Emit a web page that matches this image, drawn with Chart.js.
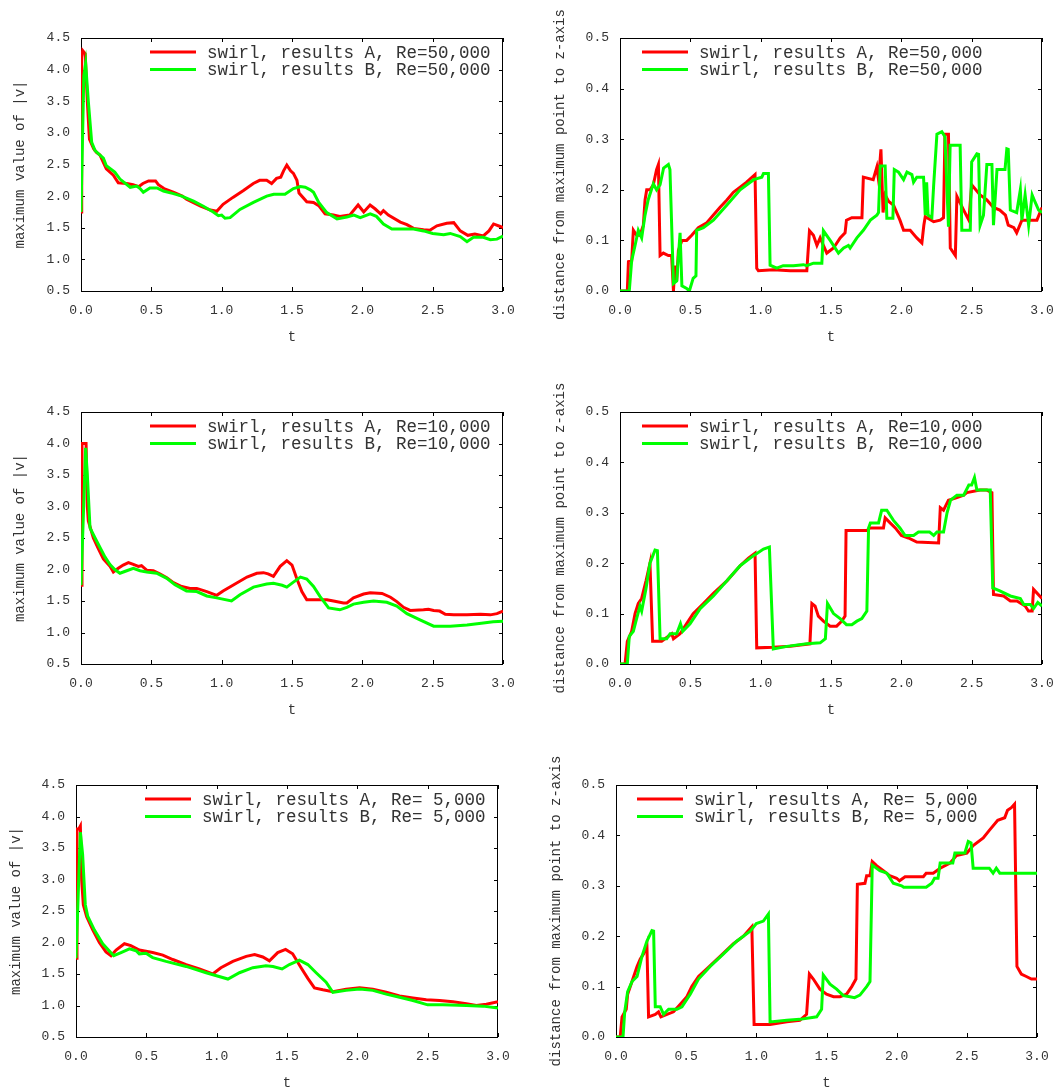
<!DOCTYPE html>
<html lang="en">
<head>
  <meta charset="UTF-8">
  <title>swirl, results A / B</title>
  <style>
    body { margin: 0; background: #fff; }
    .panel { position: absolute; }
  </style>
</head>
<body>
<div class="panel" style="left:0;top:0"><canvas id="c1" width="527" height="364"></canvas></div>
<div class="panel" style="left:527px;top:0"><canvas id="c2" width="528" height="364"></canvas></div>
<div class="panel" style="left:0;top:364px"><canvas id="c3" width="527" height="364"></canvas></div>
<div class="panel" style="left:527px;top:364px"><canvas id="c4" width="528" height="364"></canvas></div>
<div class="panel" style="left:0;top:728px"><canvas id="c5" width="527" height="364"></canvas></div>
<div class="panel" style="left:527px;top:728px"><canvas id="c6" width="528" height="364"></canvas></div>

<script src="https://cdn.jsdelivr.net/npm/chart.js"></script>
<script>
  // ---- data ----
  const tTicks = [0, 0.5, 1.0, 1.5, 2.0, 2.5, 3.0];

  // maximum value of |v|, Re=50,000
  const maxRe50A_t = [0, 0.005, 0.012, 0.03, 0.045, 0.06, 0.09, 0.11, 0.135, 0.18,
    0.23, 0.265, 0.325, 0.37, 0.41, 0.44, 0.48, 0.53, 0.55, 0.59,
    0.66, 0.72, 0.75, 0.85, 0.92, 0.965, 1.01, 1.08, 1.155, 1.225,
    1.27, 1.32, 1.355, 1.39, 1.42, 1.44, 1.463, 1.49, 1.51, 1.535,
    1.55, 1.605, 1.653, 1.69, 1.735, 1.795, 1.84, 1.91, 1.97, 2.01,
    2.055, 2.09, 2.13, 2.15, 2.185, 2.27, 2.317, 2.364, 2.435, 2.48,
    2.53, 2.6, 2.65, 2.696, 2.75, 2.8, 2.86, 2.9, 2.933, 2.98,
    3.0];
  const maxRe50A_v = [1.75, 4.2, 4.3, 4.25, 3.5, 2.9, 2.75, 2.69, 2.65, 2.43,
    2.33, 2.21, 2.2, 2.18, 2.15, 2.2, 2.24, 2.24, 2.18, 2.12,
    2.06, 2.0, 1.95, 1.84, 1.78, 1.76, 1.87, 1.98, 2.09, 2.2,
    2.25, 2.25, 2.2, 2.28, 2.3, 2.4, 2.49, 2.4, 2.36, 2.25,
    2.05, 1.91, 1.9, 1.85, 1.72, 1.7, 1.68, 1.7, 1.86, 1.75,
    1.86, 1.8, 1.72, 1.77, 1.7, 1.59, 1.55, 1.49, 1.47, 1.46,
    1.53, 1.57, 1.58, 1.45, 1.38, 1.4, 1.37, 1.45, 1.56, 1.52,
    1.5];
  const maxRe50B_t = [0, 0.02, 0.033, 0.052, 0.076, 0.1, 0.135, 0.159, 0.18, 0.24,
    0.277, 0.35, 0.396, 0.42, 0.443, 0.49, 0.54, 0.586, 0.657, 0.716,
    0.8, 0.87, 0.94, 0.977, 1.0, 1.024, 1.06, 1.13, 1.226, 1.32,
    1.37, 1.45, 1.51, 1.56, 1.594, 1.63, 1.653, 1.69, 1.747, 1.82,
    1.89, 1.94, 1.985, 2.056, 2.1, 2.15, 2.21, 2.27, 2.364, 2.435,
    2.5, 2.578, 2.625, 2.696, 2.744, 2.79, 2.86, 2.91, 2.957, 3.0];
  const maxRe50B_v = [1.75, 3.9, 4.1, 3.5, 2.85, 2.72, 2.65, 2.6, 2.48, 2.38,
    2.27, 2.14, 2.16, 2.12, 2.06, 2.13, 2.13, 2.08, 2.04, 2.0,
    1.92, 1.84, 1.75, 1.69, 1.7, 1.65, 1.66, 1.79, 1.9, 2.0,
    2.03, 2.03, 2.12, 2.15, 2.14, 2.1, 2.06, 1.9, 1.74, 1.64,
    1.67, 1.7, 1.66, 1.72, 1.68, 1.56, 1.48, 1.48, 1.48, 1.45,
    1.41, 1.39, 1.41, 1.36, 1.28, 1.35, 1.35, 1.31, 1.32, 1.37];

  // distance from maximum point to z-axis, Re=50,000
  const distRe50A_t = [0, 0.052, 0.06, 0.083, 0.095, 0.118, 0.142, 0.166, 0.178, 0.19,
    0.213, 0.237, 0.26, 0.273, 0.285, 0.308, 0.344, 0.367, 0.38, 0.39,
    0.403, 0.415, 0.44, 0.474, 0.51, 0.557, 0.617, 0.664, 0.71, 0.76,
    0.806, 0.854, 0.9, 0.96, 0.972, 0.984, 1.09, 1.21, 1.328, 1.347,
    1.375, 1.4, 1.423, 1.446, 1.47, 1.518, 1.565, 1.6, 1.61, 1.648,
    1.72, 1.73, 1.8, 1.826, 1.838, 1.855, 1.87, 1.885, 1.91, 1.944,
    1.99, 2.016, 2.063, 2.11, 2.146, 2.16, 2.17, 2.23, 2.276, 2.3,
    2.31, 2.335, 2.348, 2.384, 2.395, 2.443, 2.48, 2.5, 2.56, 2.608,
    2.655, 2.7, 2.74, 2.76, 2.8, 2.82, 2.857, 2.917, 2.964, 3.0];
  const distRe50A_v = [0, 0, 0.058, 0.06, 0.12, 0.11, 0.11, 0.13, 0.18, 0.2,
    0.2, 0.21, 0.24, 0.25, 0.07, 0.075, 0.07, 0.07, 0, 0.05,
    0.02, 0.08, 0.1, 0.1, 0.11, 0.125, 0.135, 0.15, 0.165, 0.18,
    0.195, 0.205, 0.215, 0.23, 0.045, 0.04, 0.042, 0.04, 0.04, 0.119,
    0.11, 0.09, 0.105, 0.09, 0.075, 0.085, 0.105, 0.115, 0.14, 0.145,
    0.145, 0.225, 0.22, 0.245, 0.22, 0.28, 0.155, 0.19, 0.177, 0.17,
    0.14, 0.12, 0.12, 0.105, 0.095, 0.13, 0.147, 0.137, 0.14, 0.145,
    0.31, 0.31, 0.085, 0.07, 0.187, 0.16, 0.14, 0.21, 0.19, 0.18,
    0.165, 0.16, 0.15, 0.13, 0.125, 0.115, 0.14, 0.14, 0.14, 0.165];
  const distRe50B_t = [0, 0.066, 0.083, 0.107, 0.13, 0.154, 0.178, 0.2, 0.237, 0.26,
    0.285, 0.31, 0.344, 0.355, 0.38, 0.403, 0.427, 0.44, 0.474, 0.493,
    0.52, 0.54, 0.545, 0.593, 0.664, 0.76, 0.854, 0.95, 1.008, 1.02,
    1.055, 1.067, 1.114, 1.16, 1.233, 1.304, 1.328, 1.375, 1.435, 1.446,
    1.494, 1.553, 1.59, 1.624, 1.636, 1.684, 1.73, 1.78, 1.826, 1.838,
    1.85, 1.885, 1.897, 1.94, 1.95, 1.98, 2.016, 2.04, 2.075, 2.087,
    2.11, 2.158, 2.17, 2.18, 2.19, 2.217, 2.23, 2.253, 2.288, 2.31,
    2.335, 2.347, 2.418, 2.43, 2.49, 2.5, 2.537, 2.549, 2.56, 2.584,
    2.608, 2.644, 2.655, 2.68, 2.737, 2.75, 2.76, 2.775, 2.82, 2.846,
    2.857, 2.88, 2.905, 2.93, 2.952, 2.976, 3.0];
  const distRe50B_v = [0, 0, 0.06, 0.09, 0.12, 0.105, 0.15, 0.18, 0.212, 0.2,
    0.21, 0.243, 0.25, 0.24, 0.015, 0.02, 0.115, 0.01, 0.005, 0,
    0.025, 0.03, 0.12, 0.125, 0.14, 0.17, 0.2, 0.22, 0.225, 0.232,
    0.232, 0.051, 0.045, 0.05, 0.05, 0.052, 0.05, 0.055, 0.055, 0.119,
    0.1, 0.075, 0.085, 0.09, 0.085, 0.105, 0.12, 0.14, 0.15, 0.155,
    0.247, 0.247, 0.144, 0.144, 0.24, 0.235, 0.22, 0.235, 0.23, 0.215,
    0.225, 0.225, 0.15, 0.215, 0.15, 0.145, 0.21, 0.31, 0.315, 0.305,
    0.127, 0.288, 0.288, 0.12, 0.12, 0.255, 0.271, 0.27, 0.13, 0.15,
    0.25, 0.25, 0.13, 0.24, 0.24, 0.281, 0.28, 0.16, 0.155, 0.2,
    0.14, 0.19, 0.13, 0.19, 0.175, 0.16, 0.155];

  // maximum value of |v|, Re=10,000
  const maxRe10A_t = [0, 0.007, 0.036, 0.045, 0.052, 0.088, 0.123, 0.159, 0.206, 0.23,
    0.265, 0.3, 0.337, 0.372, 0.408, 0.43, 0.467, 0.514, 0.56, 0.61,
    0.657, 0.716, 0.775, 0.823, 0.894, 0.965, 1.01, 1.08, 1.18, 1.25,
    1.297, 1.33, 1.368, 1.416, 1.463, 1.5, 1.535, 1.57, 1.605, 1.677,
    1.748, 1.795, 1.866, 1.89, 1.937, 2.009, 2.056, 2.14, 2.2, 2.245,
    2.293, 2.34, 2.435, 2.47, 2.507, 2.55, 2.59, 2.65, 2.744, 2.84,
    2.91, 2.957, 3.0];
  const maxRe10A_v = [1.75, 4.0, 4.0, 3.0, 2.77, 2.5, 2.33, 2.17, 2.05, 1.96,
    2.02, 2.07, 2.11, 2.08, 2.05, 2.06, 1.99, 1.98, 1.93, 1.87,
    1.79, 1.73, 1.7, 1.7, 1.65, 1.59, 1.66, 1.75, 1.88, 1.94,
    1.95, 1.93, 1.89, 2.05, 2.14, 2.07, 1.85, 1.65, 1.52, 1.52,
    1.52, 1.5, 1.47, 1.47, 1.55, 1.61, 1.63, 1.62, 1.56, 1.49,
    1.4, 1.35, 1.36, 1.37, 1.35, 1.34, 1.29, 1.28, 1.28, 1.29,
    1.28, 1.3, 1.34];
  const maxRe10B_t = [0, 0.033, 0.045, 0.064, 0.1, 0.135, 0.17, 0.206, 0.24, 0.277,
    0.325, 0.372, 0.42, 0.467, 0.538, 0.61, 0.668, 0.75, 0.823, 0.894,
    0.965, 1.07, 1.13, 1.226, 1.32, 1.368, 1.43, 1.463, 1.51, 1.56,
    1.605, 1.653, 1.7, 1.76, 1.84, 1.89, 1.937, 2.009, 2.08, 2.174,
    2.245, 2.317, 2.41, 2.507, 2.625, 2.744, 2.86, 2.93, 3.0];
  const maxRe10B_v = [1.75, 3.93, 3.5, 2.66, 2.5, 2.35, 2.2, 2.08, 2.0, 1.94,
    1.98, 2.02, 1.98, 1.96, 1.94, 1.86, 1.76, 1.66, 1.65, 1.58,
    1.55, 1.5, 1.6, 1.72, 1.77, 1.78, 1.75, 1.72, 1.8, 1.88,
    1.85, 1.73, 1.57, 1.39, 1.36, 1.4, 1.45, 1.48, 1.5, 1.48,
    1.42, 1.3, 1.2, 1.1, 1.1, 1.12, 1.15, 1.17, 1.18];

  // distance from maximum point to z-axis, Re=10,000
  const distRe10A_t = [0, 0.036, 0.052, 0.083, 0.107, 0.13, 0.154, 0.185, 0.213, 0.232,
    0.296, 0.32, 0.368, 0.38, 0.427, 0.474, 0.52, 0.593, 0.664, 0.76,
    0.854, 0.913, 0.96, 0.972, 1.09, 1.21, 1.35, 1.364, 1.387, 1.41,
    1.446, 1.494, 1.54, 1.577, 1.6, 1.607, 1.684, 1.755, 1.779, 1.873,
    1.885, 1.92, 1.957, 2.0, 2.05, 2.11, 2.265, 2.277, 2.3, 2.335,
    2.395, 2.443, 2.466, 2.56, 2.608, 2.644, 2.655, 2.727, 2.775, 2.822,
    2.88, 2.904, 2.93, 2.94, 3.0];
  const distRe10A_v = [0, 0, 0.045, 0.065, 0.1, 0.12, 0.13, 0.165, 0.2, 0.045,
    0.045, 0.05, 0.06, 0.05, 0.06, 0.08, 0.1, 0.12, 0.14, 0.165,
    0.195, 0.21, 0.22, 0.032, 0.033, 0.035, 0.04, 0.12, 0.115, 0.095,
    0.085, 0.075, 0.075, 0.085, 0.095, 0.265, 0.265, 0.265, 0.27, 0.27,
    0.29, 0.28, 0.27, 0.255, 0.25, 0.242, 0.24, 0.31, 0.305, 0.325,
    0.33, 0.335, 0.34, 0.345, 0.345, 0.34, 0.138, 0.135, 0.125, 0.125,
    0.115, 0.105, 0.105, 0.148, 0.13];
  const distRe10B_t = [0, 0.052, 0.066, 0.095, 0.118, 0.142, 0.154, 0.185, 0.213, 0.249,
    0.266, 0.285, 0.332, 0.356, 0.403, 0.43, 0.446, 0.498, 0.57, 0.664,
    0.76, 0.854, 0.949, 1.02, 1.062, 1.09, 1.186, 1.328, 1.423, 1.46,
    1.475, 1.518, 1.565, 1.61, 1.648, 1.684, 1.719, 1.755, 1.767, 1.78,
    1.838, 1.86, 1.897, 1.944, 1.99, 2.027, 2.087, 2.122, 2.2, 2.23,
    2.253, 2.3, 2.325, 2.35, 2.395, 2.443, 2.48, 2.5, 2.52, 2.537,
    2.632, 2.65, 2.7, 2.775, 2.846, 2.87, 2.917, 2.94, 2.97, 3.0];
  const distRe10B_v = [0, 0, 0.055, 0.065, 0.09, 0.115, 0.105, 0.15, 0.2, 0.226,
    0.225, 0.05, 0.05, 0.06, 0.06, 0.08, 0.065, 0.08, 0.11, 0.135,
    0.165, 0.195, 0.215, 0.228, 0.232, 0.03, 0.035, 0.04, 0.042, 0.05,
    0.12, 0.1, 0.09, 0.078, 0.078, 0.085, 0.09, 0.105, 0.27, 0.28,
    0.28, 0.305, 0.305, 0.285, 0.27, 0.255, 0.255, 0.262, 0.262, 0.255,
    0.262, 0.262, 0.3, 0.325, 0.335, 0.335, 0.355, 0.355, 0.37, 0.345,
    0.345, 0.151, 0.145, 0.135, 0.13, 0.118, 0.118, 0.11, 0.122, 0.115];

  // maximum value of |v|, Re=5,000
  const maxRe5A_t = [0, 0.007, 0.019, 0.031, 0.04, 0.052, 0.076, 0.119, 0.166, 0.213,
    0.249, 0.285, 0.344, 0.39, 0.45, 0.545, 0.617, 0.688, 0.783, 0.877,
    0.972, 1.03, 1.115, 1.21, 1.27, 1.328, 1.375, 1.434, 1.49, 1.54,
    1.6, 1.648, 1.695, 1.755, 1.826, 1.92, 2.016, 2.11, 2.205, 2.3,
    2.395, 2.49, 2.585, 2.68, 2.775, 2.846, 2.917, 3.0];
  const maxRe5A_v = [1.75, 3.8, 3.8, 3.85, 3.0, 2.6, 2.41, 2.2, 2.0, 1.85,
    1.79, 1.88, 1.98, 1.95, 1.88, 1.84, 1.8, 1.73, 1.65, 1.58,
    1.5, 1.6, 1.7, 1.78, 1.81, 1.77, 1.71, 1.84, 1.89, 1.82,
    1.6, 1.43, 1.28, 1.25, 1.22, 1.26, 1.28, 1.26, 1.21, 1.15,
    1.12, 1.09, 1.08, 1.06, 1.03, 1.0, 1.02, 1.06];
  const maxRe5B_t = [0, 0.031, 0.047, 0.066, 0.083, 0.13, 0.19, 0.268, 0.32, 0.38,
    0.427, 0.45, 0.498, 0.545, 0.64, 0.783, 0.925, 1.08, 1.162, 1.257,
    1.35, 1.4, 1.465, 1.517, 1.588, 1.648, 1.707, 1.778, 1.826, 1.92,
    2.016, 2.11, 2.205, 2.3, 2.395, 2.5, 2.608, 2.775, 2.893, 3.0];
  const maxRe5B_v = [1.75, 3.75, 3.4, 2.6, 2.42, 2.2, 1.98, 1.79, 1.84, 1.9,
    1.87, 1.82, 1.83, 1.76, 1.7, 1.62, 1.52, 1.42, 1.52, 1.6,
    1.63, 1.62, 1.58, 1.65, 1.72, 1.65, 1.52, 1.37, 1.21, 1.24,
    1.26, 1.24, 1.18, 1.13, 1.08, 1.01, 1.01, 1.0, 0.99, 0.96];

  // distance from maximum point to z-axis, Re=5,000
  const distRe5A_t = [0, 0.03, 0.043, 0.073, 0.083, 0.114, 0.15, 0.173, 0.197, 0.22,
    0.232, 0.28, 0.303, 0.32, 0.363, 0.41, 0.458, 0.505, 0.54, 0.588,
    0.647, 0.742, 0.837, 0.908, 0.968, 0.984, 1.098, 1.217, 1.31, 1.358,
    1.378, 1.406, 1.453, 1.5, 1.55, 1.596, 1.643, 1.68, 1.71, 1.72,
    1.774, 1.786, 1.81, 1.826, 1.857, 1.905, 1.95, 2.0, 2.02, 2.06,
    2.19, 2.21, 2.26, 2.31, 2.38, 2.426, 2.5, 2.545, 2.617, 2.66,
    2.72, 2.77, 2.79, 2.817, 2.84, 2.857, 2.888, 2.924, 2.96, 3.0];
  const distRe5A_v = [0, 0, 0.04, 0.055, 0.085, 0.11, 0.14, 0.155, 0.165, 0.185,
    0.04, 0.045, 0.05, 0.04, 0.045, 0.05, 0.065, 0.08, 0.1, 0.12,
    0.135, 0.16, 0.185, 0.2, 0.219, 0.025, 0.025, 0.03, 0.033, 0.045,
    0.125, 0.115, 0.095, 0.085, 0.08, 0.08, 0.085, 0.1, 0.115, 0.303,
    0.305, 0.32, 0.32, 0.348, 0.34, 0.33, 0.32, 0.315, 0.31, 0.318,
    0.318, 0.325, 0.325, 0.335, 0.345, 0.36, 0.365, 0.38, 0.395, 0.41,
    0.43, 0.435, 0.45, 0.455, 0.462, 0.14, 0.125, 0.12, 0.115, 0.115];
  const distRe5B_t = [0, 0.05, 0.062, 0.083, 0.114, 0.15, 0.185, 0.22, 0.256, 0.268,
    0.28, 0.315, 0.339, 0.375, 0.434, 0.47, 0.529, 0.588, 0.671, 0.766,
    0.86, 0.956, 1.0, 1.05, 1.086, 1.098, 1.217, 1.31, 1.43, 1.465,
    1.477, 1.525, 1.572, 1.62, 1.667, 1.7, 1.738, 1.786, 1.81, 1.826,
    1.88, 1.93, 1.976, 2.035, 2.05, 2.21, 2.25, 2.27, 2.295, 2.31,
    2.4, 2.415, 2.486, 2.51, 2.53, 2.545, 2.66, 2.687, 2.71, 2.735,
    3.0];
  const distRe5B_v = [0, 0, 0.05, 0.09, 0.11, 0.12, 0.16, 0.19, 0.211, 0.21,
    0.06, 0.06, 0.045, 0.055, 0.055, 0.06, 0.085, 0.115, 0.14, 0.165,
    0.19, 0.21, 0.225, 0.23, 0.244, 0.03, 0.033, 0.035, 0.04, 0.055,
    0.123, 0.105, 0.095, 0.082, 0.08, 0.078, 0.083, 0.1, 0.11, 0.341,
    0.33, 0.325, 0.305, 0.3, 0.297, 0.297, 0.305, 0.315, 0.315, 0.345,
    0.345, 0.365, 0.365, 0.388, 0.385, 0.335, 0.335, 0.325, 0.335, 0.325,
    0.325];

  const FONT = "'Liberation Mono', 'DejaVu Sans Mono', monospace";

  // box round the plot and gnuplot-like inward ticks on all four sides
  const frameTicks = {
    id: 'frameTicks',
    beforeDatasetsDraw(chart) {
      const {ctx, chartArea: a, scales: {x, y}} = chart;
      ctx.save();
      ctx.strokeStyle = '#000';
      ctx.lineWidth = 1;
      ctx.beginPath();
      ctx.rect(a.left + 0.5, a.top + 0.5, a.right - a.left - 1, a.bottom - a.top);
      const len = 4;
      x.ticks.forEach(t => {
        const px = Math.round(x.getPixelForValue(t.value)) + 0.5;
        ctx.moveTo(px, a.bottom); ctx.lineTo(px, a.bottom - len);
        ctx.moveTo(px, a.top); ctx.lineTo(px, a.top + len);
      });
      y.ticks.forEach(t => {
        const py = Math.round(y.getPixelForValue(t.value)) + 0.5;
        ctx.moveTo(a.left, py); ctx.lineTo(a.left + len, py);
        ctx.moveTo(a.right, py); ctx.lineTo(a.right - len, py);
      });
      ctx.stroke();
      ctx.restore();
    }
  };

  // key drawn inside the plot, two rows
  const keyBox = {
    id: 'keyBox',
    afterDatasetsDraw(chart, args, opts) {
      const {ctx, chartArea: a} = chart;
      ctx.save();
      ctx.font = '17.5px ' + FONT;
      ctx.textBaseline = 'middle';
      ctx.textAlign = 'left';
      chart.data.datasets.forEach((ds, i) => {
        const yy = a.top + 14 + i * 17.5;
        const x0 = a.left + opts.x;
        ctx.strokeStyle = ds.borderColor;
        ctx.lineWidth = 3;
        ctx.beginPath();
        ctx.moveTo(x0, yy); ctx.lineTo(x0 + 46, yy);
        ctx.stroke();
        ctx.fillStyle = '#333';
        ctx.fillText(ds.label, x0 + 57, yy + 1);
      });
      ctx.restore();
    }
  };

  function pts(t, v) {
    return t.map((tt, i) => ({x: tt, y: v[i]}));
  }

  function makePanel(id, p) {
    const cv = document.getElementById(id);
    const W = cv.width, H = cv.height;
    const XH = 55;
    return new Chart(cv, {
      type: 'line',
      data: {
        datasets: [
          {label: 'swirl, results A, Re=' + p.re, data: pts(p.tA, p.vA),
           borderColor: '#ff0000', borderWidth: 3, pointRadius: 0, tension: 0, order: 2},
          {label: 'swirl, results B, Re=' + p.re, data: pts(p.tB, p.vB),
           borderColor: '#00ff00', borderWidth: 3, pointRadius: 0, tension: 0, order: 1}
        ]
      },
      options: {
        responsive: false,
        animation: false,
        events: [],
        layout: {padding: {left: 0, top: p.T, right: W - p.R, bottom: H - p.B - XH}},
        scales: {
          x: {
            type: 'linear', min: 0, max: 3,
            afterBuildTicks: s => { s.ticks = tTicks.map(v => ({value: v})); },
            afterFit: s => { s.height = XH; s.paddingLeft = 0; s.paddingRight = 0; },
            grid: {display: false, drawTicks: false},
            border: {display: false},
            ticks: {padding: 12, color: '#333', font: {family: FONT, size: 13},
                    maxRotation: 0, callback: v => v.toFixed(1)},
            title: {display: true, text: 't', color: '#333', padding: 0,
                    font: {family: FONT, size: 14}}
          },
          y: {
            type: 'linear', min: p.yMin, max: p.yMax,
            afterBuildTicks: s => { s.ticks = p.yTicks.map(v => ({value: v})); },
            afterFit: s => { s.width = p.L; s.paddingTop = 0; s.paddingBottom = 0; },
            grid: {display: false, drawTicks: false},
            border: {display: false},
            ticks: {padding: 11, color: '#333', font: {family: FONT, size: 13},
                    callback: v => v.toFixed(1)},
            title: {display: true, text: p.yTitle, color: '#333',
                    padding: {top: p.yTitlePad, bottom: 0},
                    font: {family: FONT, size: 14}}
          }
        },
        plugins: {
          legend: {display: false},
          tooltip: {enabled: false},
          keyBox: {x: p.keyX}
        }
      },
      plugins: [frameTicks, keyBox]
    });
  }

  const maxTicks = [0.5, 1.0, 1.5, 2.0, 2.5, 3.0, 3.5, 4.0, 4.5];
  const distTicks = [0.0, 0.1, 0.2, 0.3, 0.4, 0.5];
  const maxTitle = 'maximum value of |v|';
  const distTitle = 'distance from maximum point to z-axis';

  makePanel('c1', {re: '50,000', tA: maxRe50A_t, vA: maxRe50A_v, tB: maxRe50B_t, vB: maxRe50B_v,
    L: 81, T: 38, R: 503, B: 291, yMin: 0.5, yMax: 4.5, yTicks: maxTicks,
    yTitle: maxTitle, yTitlePad: 12, keyX: 69});
  makePanel('c2', {re: '50,000', tA: distRe50A_t, vA: distRe50A_v, tB: distRe50B_t, vB: distRe50B_v,
    L: 93, T: 38, R: 515, B: 291, yMin: 0, yMax: 0.5, yTicks: distTicks,
    yTitle: distTitle, yTitlePad: 25, keyX: 22});
  makePanel('c3', {re: '10,000', tA: maxRe10A_t, vA: maxRe10A_v, tB: maxRe10B_t, vB: maxRe10B_v,
    L: 81, T: 48, R: 503, B: 300, yMin: 0.5, yMax: 4.5, yTicks: maxTicks,
    yTitle: maxTitle, yTitlePad: 12, keyX: 69});
  makePanel('c4', {re: '10,000', tA: distRe10A_t, vA: distRe10A_v, tB: distRe10B_t, vB: distRe10B_v,
    L: 93, T: 48, R: 515, B: 300, yMin: 0, yMax: 0.5, yTicks: distTicks,
    yTitle: distTitle, yTitlePad: 25, keyX: 22});
  makePanel('c5', {re: ' 5,000', tA: maxRe5A_t, vA: maxRe5A_v, tB: maxRe5B_t, vB: maxRe5B_v,
    L: 76, T: 57, R: 498, B: 309, yMin: 0.5, yMax: 4.5, yTicks: maxTicks,
    yTitle: maxTitle, yTitlePad: 8, keyX: 69});
  makePanel('c6', {re: ' 5,000', tA: distRe5A_t, vA: distRe5A_v, tB: distRe5B_t, vB: distRe5B_v,
    L: 89, T: 57, R: 510, B: 309, yMin: 0, yMax: 0.5, yTicks: distTicks,
    yTitle: distTitle, yTitlePad: 21, keyX: 21});
</script>
</body>
</html>
